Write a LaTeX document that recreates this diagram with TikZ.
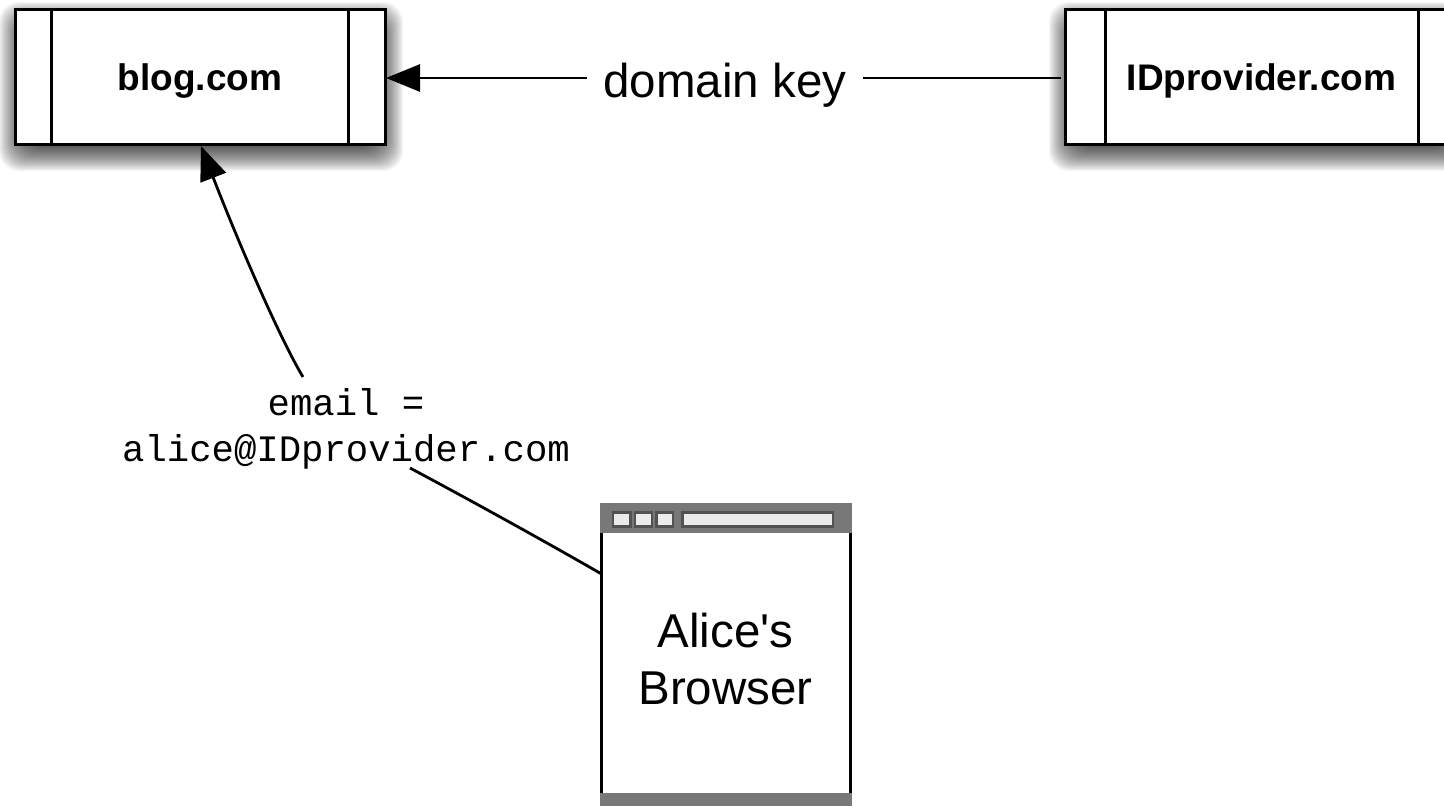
\documentclass[tikz,border=0pt]{standalone}
\usepackage{fontspec}
\setmainfont{Liberation Sans}[Ligatures=TeXOff]
\setmonofont{Liberation Mono}
\usetikzlibrary{arrows.meta,calc}
\tikzset{
  procbox/.style={draw=black,line width=3pt,fill=white,minimum height=135pt,inner sep=0pt,outer sep=0pt,
    font=\fontsize{37}{40}\selectfont\bfseries},
  divider/.style={draw=black,line width=3pt},
  conn/.style={draw=black,line width=2.8pt},
  tip/.style={-{Triangle[length=34pt,width=27pt]}},
  biglabel/.style={font=\fontsize{47.5}{57}\selectfont,align=center,inner sep=0pt,outer sep=0pt},
  monolabel/.style={font=\ttfamily\fontsize{37.3}{46}\selectfont,align=center,inner sep=0pt,outer sep=0pt},
  winbar/.style={fill=black!53,draw=none},
  winbtn/.style={fill=black!8,draw=black!68,line width=2.6pt},
  winframe/.style={draw=black,line width=3pt,fill=white,minimum width=249pt,minimum height=300pt,inner sep=0pt,outer sep=0pt},
}
\newcommand{\softshadow}[4]{%
  \foreach \i in {0,...,31}{%
    \fill[black,opacity=.04,rounded corners=20pt]
      ({#1+1-17+\i*1.1},{#2+10-17+\i*1.1}) rectangle ({#3+1+17-\i*1.1},{#4+10+17-\i*1.1});
  }%
}
\begin{document}
\begin{tikzpicture}[x=1pt,y=-1pt]
\useasboundingbox (0,0) rectangle (1444,807);
\fill[white] (0,0) rectangle (1444,807);
\softshadow{15}{9}{385}{144}
\softshadow{1065}{9}{1458}{144}
\node[procbox,minimum width=370pt] (blog) at (200,76.5) {\raisebox{-13.5pt}[0pt][0pt]{blog.com}};
\node[procbox,minimum width=393pt] (idp) at (1261.5,76.5) {\raisebox{-13.5pt}[0pt][0pt]{IDprovider.com}};
\draw[divider] ($(blog.north west)+(36,0)$) -- ($(blog.south west)+(36,0)$);
\draw[divider] ($(blog.north east)+(-37,0)$) -- ($(blog.south east)+(-37,0)$);
\draw[divider] ($(idp.north west)+(40,0)$) -- ($(idp.south west)+(40,0)$);
\draw[divider] ($(idp.north east)+(-40,0)$) -- ($(idp.south east)+(-40,0)$);
\node[biglabel,minimum width=276pt,minimum height=50pt] (dk) at (725,78) {\raisebox{-19pt}[0pt][0pt]{domain key}};
\draw[conn] ($(idp.west)+(-4,1.5)$) -- (dk.east);
\draw[conn,tip] (dk.west) -- ($(blog.east)+(1,1.5)$);
\node[winframe] (browser) at (725.5,654.5) {};
\node[biglabel] (browsertext) at (725.5,659) {Alice's\\Browser};
\fill[winbar] ($(browser.north west)+(-1.5,-1.5)$) rectangle ($(browser.north east)+(1.5,28.5)$);
\fill[winbar] ($(browser.south west)+(-1.5,-11.5)$) rectangle ($(browser.south east)+(1.5,1.5)$);
\draw[winbtn] (613,512.5) rectangle (630.5,526.5);
\draw[winbtn] (635,512.5) rectangle (652,526.5);
\draw[winbtn] (656.5,512.5) rectangle (673,526.5);
\draw[winbtn] (682.5,512.5) rectangle (833,526.5);
\node[monolabel,minimum width=448pt,minimum height=92pt] (mail) at (346,429) {email =\\alice@IDprovider.com};
\draw[conn] (browser.147.5) .. controls ($(browser.147.5)+(-61,-35)$) and ($(mail.south)+(124,25)$) .. ($(mail.south)+(64,-7)$);
\draw[conn,tip] ($(mail.north)+(-43,-6)$) .. controls ($(mail.north)+(-67,-46)$) and ($(blog.south)+(37,95)$) .. ($(blog.south)+(1,2)$);
\end{tikzpicture}
\end{document}
